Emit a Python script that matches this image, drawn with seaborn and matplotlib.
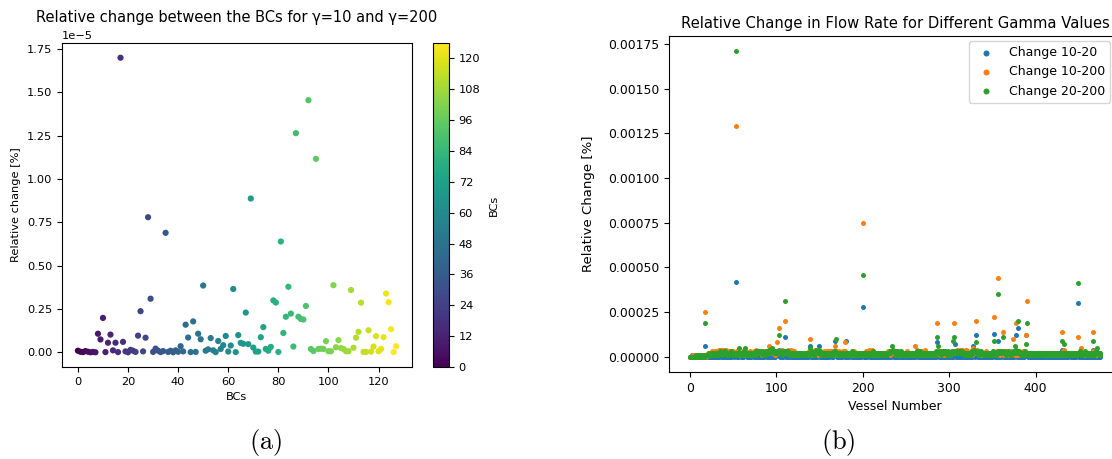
import numpy as np
import matplotlib
matplotlib.use("Agg")
import matplotlib.pyplot as plt
import seaborn as sns

plt.rcParams["mathtext.fontset"] = "cm"

# ---- panel (a): relative change between BCs for gamma=10 and gamma=200 (units of 1e-5 %)
bc_change_e5 = [
    0.010, 0.004, 0.002, 0.008, 0.004, 0.001, 0.003, 0.001,
    0.108, 0.075, 0.199, 0.002, 0.056, 0.103, 0.012, 0.056,
    0.002, 1.700, 0.061, 0.006, 0.001, 0.015, 0.010, 0.003,
    0.097, 0.238, 0.006, 0.085, 0.780, 0.310, 0.003, 0.022,
    0.010, 0.002, 0.008, 0.690, 0.003, 0.010, 0.001, 0.012,
    0.004, 0.036, 0.006, 0.160, 0.086, 0.002, 0.179, 0.003,
    0.108, 0.076, 0.386, 0.010, 0.018, 0.083, 0.012, 0.002,
    0.066, 0.020, 0.042, 0.095, 0.005, 0.040, 0.366, 0.002,
    0.100, 0.055, 0.050, 0.230, 0.048, 0.888, 0.028, 0.005,
    0.005, 0.088, 0.146, 0.020, 0.010, 0.032, 0.300, 0.288,
    0.003, 0.640, 0.112, 0.206, 0.379, 0.224, 0.034, 1.265,
    0.206, 0.193, 0.190, 0.268, 1.455, 0.020, 0.008, 1.117,
    0.020, 0.022, 0.020, 0.065, 0.007, 0.007, 0.388, 0.030,
    0.071, 0.025, 0.020, 0.007, 0.007, 0.360, 0.027, 0.085,
    0.119, 0.287, 0.003, 0.003, 0.128, 0.005, 0.034, 0.094,
    0.007, 0.020, 0.088, 0.340, 0.290, 0.134, 0.002, 0.036,
]
bcs = np.arange(len(bc_change_e5))
cbar_ticks = [0, 12, 24, 36, 48, 60, 72, 84, 96, 108, 120]

# ---- panel (b): relative change in flow rate per vessel (units of 1e-5 %)
change_10_20 = [
    0, 0, 1, 0, 0, 1, 0, 0, 1, 0, 0, 0, 1, 0, 1, 0, 0, 1, 6, 0,
    1, 0, 0, 1, 0, 1, 1, 0, 0, 1, 0, 1, 0, 0, 1, 1, 0, 1, 0, 1,
    1, 0, 1, 0, 1, 0, 0, 1, 0, 1, 1, 0, 1, 42, 0, 1, 0, 2, 1, 0,
    1, 0, 0, 1, 1, 2, 0, 1, 0, 0, 1, 0, 1, 1, 0, 1, 0, 1, 2, 0,
    1, 0, 1, 0, 1, 1, 0, 1, 1, 0, 1, 2, 0, 1, 0, 1, 0, 1, 1, 0,
    2, 1, 1, 4, 0, 1, 0, 1, 0, 1, 11, 0, 1, 0, 1, 1, 0, 1, 0, 1,
    1, 0, 1, 0, 0, 1, 0, 1, 1, 0, 1, 0, 1, 0, 1, 0, 1, 0, 2, 6,
    0, 1, 0, 1, 1, 0, 1, 0, 1, 6, 0, 1, 0, 1, 0, 0, 1, 0, 1, 0,
    1, 0, 1, 1, 0, 1, 0, 2, 9, 1, 0, 1, 0, 1, 0, 1, 0, 1, 1, 0,
    1, 9, 0, 1, 0, 1, 1, 0, 1, 0, 0, 1, 0, 1, 0, 1, 0, 1, 0, 1,
    28, 0, 1, 0, 1, 0, 1, 1, 0, 1, 0, 1, 0, 0, 1, 0, 1, 0, 1, 0,
    1, 0, 1, 0, 1, 1, 0, 1, 0, 1, 0, 1, 1, 0, 2, 1, 0, 1, 0, 1,
    0, 1, 0, 1, 0, 1, 1, 0, 1, 0, 1, 0, 1, 0, 1, 0, 0, 1, 0, 1,
    1, 0, 1, 1, 0, 1, 0, 1, 0, 1, 0, 1, 0, 1, 0, 0, 1, 0, 1, 0,
    1, 0, 1, 0, 1, 0, 8, 1, 0, 1, 0, 1, 0, 1, 0, 1, 0, 1, 1, 0,
    1, 0, 1, 0, 1, 0, 1, 7, 0, 1, 0, 1, 0, 1, 2, 0, 1, 0, 1, 0,
    1, 0, 1, 0, 1, 0, 1, 0, 6, 1, 0, 12, 1, 0, 1, 0, 1, 0, 1, 0,
    1, 0, 1, 1, 0, 1, 0, 1, 0, 1, 0, 1, 13, 0, 1, 0, 1, 9, 0, 1,
    0, 1, 2, 0, 1, 0, 1, 0, 1, 0, 1, 0, 1, 0, 1, 0, 1, 12, 0, 1,
    16, 0, 1, 0, 1, 0, 1, 0, 1, 12, 1, 0, 1, 0, 1, 0, 1, 0, 1, 0,
    1, 0, 1, 0, 1, 0, 0, 1, 0, 1, 0, 1, 0, 1, 0, 1, 0, 1, 0, 1,
    0, 1, 0, 1, 0, 1, 0, 1, 0, 1, 0, 4, 0, 1, 0, 1, 0, 1, 0, 1,
    1, 0, 1, 0, 1, 0, 1, 0, 1, 30, 0, 1, 0, 1, 0, 1, 0, 1, 0, 1,
    0, 1, 0, 1, 0, 1, 4, 0, 1, 0, 1, 0, 1, 0, 1, 0,
]
change_10_200 = [
    0, 0, 0, 1, 0, 0, 1, 0, 1, 0, 0, 1, 0, 1, 0, 0, 1, 1, 25, 0,
    1, 2, 1, 2, 1, 2, 3, 2, 1, 3, 2, 3, 2, 3, 4, 4, 3, 4, 3, 2,
    3, 4, 4, 3, 2, 3, 2, 3, 2, 2, 3, 2, 2, 129, 3, 2, 3, 2, 1, 2,
    2, 3, 2, 1, 2, 3, 2, 1, 2, 3, 2, 2, 1, 2, 3, 2, 3, 4, 3, 2,
    2, 3, 2, 1, 2, 3, 2, 2, 3, 2, 2, 6, 3, 2, 3, 2, 2, 3, 2, 1,
    2, 8, 3, 16, 2, 3, 4, 3, 2, 3, 20, 3, 2, 4, 3, 2, 3, 4, 3, 2,
    3, 2, 1, 2, 1, 2, 1, 2, 1, 1, 2, 1, 1, 2, 1, 2, 1, 2, 3, 10,
    2, 1, 2, 3, 2, 4, 3, 2, 1, 4, 2, 1, 2, 1, 2, 3, 2, 1, 2, 3,
    2, 3, 2, 3, 2, 1, 2, 1, 6, 3, 2, 1, 2, 3, 2, 1, 2, 3, 2, 8,
    3, 2, 1, 2, 1, 2, 1, 2, 1, 2, 3, 2, 1, 2, 1, 2, 1, 2, 2, 1,
    75, 2, 1, 2, 3, 2, 1, 4, 2, 1, 3, 4, 3, 2, 1, 2, 1, 2, 1, 2,
    1, 2, 1, 2, 1, 2, 1, 2, 2, 3, 2, 1, 3, 2, 3, 2, 2, 3, 2, 1,
    2, 1, 3, 2, 1, 2, 1, 2, 1, 2, 2, 3, 2, 1, 2, 1, 2, 1, 2, 1,
    6, 2, 1, 4, 2, 1, 2, 3, 2, 1, 2, 1, 4, 2, 1, 2, 1, 2, 1, 2,
    1, 2, 1, 2, 1, 2, 19, 3, 2, 1, 2, 3, 2, 1, 2, 3, 1, 2, 1, 2,
    2, 1, 2, 3, 3, 2, 19, 3, 2, 4, 3, 2, 3, 4, 3, 4, 3, 2, 3, 4,
    4, 3, 2, 1, 2, 3, 2, 1, 5, 2, 3, 20, 4, 3, 2, 1, 2, 1, 2, 1,
    2, 1, 2, 3, 2, 1, 2, 1, 2, 1, 2, 3, 22, 2, 1, 3, 2, 44, 2, 1,
    3, 2, 14, 2, 1, 2, 3, 2, 1, 2, 3, 2, 1, 2, 10, 2, 1, 19, 2, 1,
    3, 2, 1, 2, 1, 3, 2, 1, 2, 12, 31, 2, 1, 2, 1, 2, 1, 2, 1, 2,
    1, 2, 1, 2, 1, 2, 1, 2, 1, 1, 2, 1, 2, 1, 2, 1, 2, 1, 1, 2,
    1, 2, 1, 2, 1, 2, 1, 2, 1, 1, 2, 14, 3, 4, 2, 1, 2, 1, 2, 1,
    2, 1, 2, 1, 2, 1, 2, 1, 2, 11, 2, 3, 5, 2, 1, 2, 1, 2, 1, 2,
    1, 2, 1, 2, 1, 2, 14, 3, 2, 1, 2, 1, 2, 1, 2, 1,
]
change_20_200 = [
    0, 0, 0, 0, 0, 0, 0, 1, 0, 0, 0, 1, 0, 0, 1, 0, 1, 0, 19, 1,
    1, 1, 2, 1, 1, 2, 1, 2, 1, 2, 1, 2, 1, 2, 2, 3, 2, 1, 2, 3,
    2, 3, 2, 1, 2, 1, 2, 2, 3, 2, 1, 2, 1, 171, 2, 1, 2, 5, 2, 1,
    2, 1, 2, 3, 5, 2, 1, 2, 1, 2, 1, 2, 1, 2, 1, 2, 1, 3, 2, 3,
    2, 3, 2, 3, 2, 1, 2, 1, 3, 2, 3, 4, 3, 2, 4, 5, 3, 2, 3, 2,
    2, 3, 2, 12, 2, 3, 2, 1, 2, 3, 31, 3, 2, 3, 2, 1, 2, 1, 2, 1,
    2, 1, 2, 1, 2, 1, 2, 1, 2, 1, 2, 1, 1, 2, 1, 2, 1, 2, 1, 5,
    3, 2, 1, 2, 1, 2, 4, 3, 2, 4, 3, 2, 1, 2, 1, 2, 1, 2, 1, 2,
    1, 2, 1, 2, 1, 2, 1, 3, 3, 10, 2, 1, 2, 1, 2, 1, 2, 1, 2, 1,
    1, 2, 1, 2, 1, 2, 1, 2, 3, 2, 1, 2, 1, 2, 1, 2, 1, 2, 1, 2,
    46, 2, 1, 2, 1, 2, 1, 2, 1, 2, 1, 2, 3, 2, 1, 2, 1, 2, 1, 2,
    1, 2, 1, 2, 1, 2, 1, 2, 1, 2, 2, 3, 2, 3, 6, 4, 3, 2, 1, 2,
    3, 2, 1, 2, 3, 2, 1, 2, 1, 2, 1, 2, 1, 2, 1, 2, 1, 2, 1, 2,
    1, 2, 1, 3, 2, 1, 3, 2, 1, 2, 1, 2, 1, 2, 1, 2, 1, 2, 1, 2,
    1, 2, 1, 2, 1, 3, 11, 6, 2, 3, 2, 1, 2, 3, 2, 3, 2, 1, 2, 3,
    2, 1, 2, 3, 9, 2, 11, 3, 2, 3, 2, 3, 2, 3, 2, 3, 2, 1, 2, 1,
    2, 1, 2, 1, 2, 1, 2, 3, 2, 4, 3, 8, 2, 3, 2, 1, 2, 3, 2, 1,
    2, 1, 2, 1, 2, 1, 2, 1, 2, 1, 2, 3, 9, 2, 1, 2, 3, 35, 2, 3,
    2, 3, 11, 2, 3, 2, 1, 2, 3, 2, 1, 2, 1, 2, 3, 2, 6, 4, 3, 2,
    20, 3, 2, 1, 2, 1, 2, 1, 3, 7, 19, 2, 1, 2, 1, 2, 1, 2, 1, 2,
    1, 2, 1, 2, 1, 2, 1, 2, 1, 2, 1, 2, 1, 2, 1, 2, 1, 2, 1, 2,
    1, 2, 1, 2, 1, 2, 1, 2, 1, 2, 1, 9, 2, 7, 2, 1, 2, 1, 2, 1,
    2, 1, 2, 1, 2, 1, 2, 1, 2, 41, 2, 3, 2, 1, 2, 1, 2, 3, 2, 1,
    2, 1, 2, 1, 2, 1, 9, 2, 1, 2, 3, 5, 2, 1, 2, 1,
]
series_labels = ["Change 10-20", "Change 10-200", "Change 20-200"]
series_colors = ["#1f77b4", "#ff7f0e", "#2ca02c"]

W, H = 1112, 459
fig = plt.figure(figsize=(W / 100, H / 100), dpi=100)

# ---------- (a)
ax1 = fig.add_axes([62 / W, 1 - 367 / H, 350 / W, 324 / H])
cax = fig.add_axes([433 / W, 1 - 367 / H, 16 / W, 324 / H])
y1 = np.array(bc_change_e5) * 1e-5
sns.scatterplot(x=bcs, y=y1, hue=bcs, palette="viridis", hue_norm=(0, 126),
                legend=False, s=20, linewidth=0, ax=ax1)
ax1.set_title("Relative change between the BCs for γ=10 and γ=200", fontsize=10.5)
ax1.set_xlabel("BCs", fontsize=8.2)
ax1.set_ylabel("Relative change [%]", fontsize=8.2)
ax1.tick_params(labelsize=8.2)
ax1.yaxis.get_offset_text().set_fontsize(8.2)

sm = plt.cm.ScalarMappable(cmap="viridis", norm=plt.Normalize(0, 126))
cb = fig.colorbar(sm, cax=cax, ticks=cbar_ticks)
cb.set_label("BCs", fontsize=8.2, labelpad=6)
cb.ax.tick_params(labelsize=8.2)
cb.outline.set_linewidth(0.8)

# ---------- (b)
ax2 = fig.add_axes([669.4 / W, 1 - 372 / H, 451.5 / W, 336 / H])
vessels = np.arange(len(change_10_20))
for vals, lab, col in zip([change_10_20, change_10_200, change_20_200],
                          series_labels, series_colors):
    sns.scatterplot(x=vessels, y=np.array(vals) * 1e-5, color=col, label=lab,
                    s=13, linewidth=0, ax=ax2)
ax2.set_title("Relative Change in Flow Rate for Different Gamma Values", fontsize=10.6)
ax2.set_xlabel("Vessel Number", fontsize=9)
ax2.set_ylabel("Relative Change [%]", fontsize=9.5, labelpad=10)
ax2.tick_params(labelsize=8.9)
ax2.legend(loc="upper right", bbox_to_anchor=(1110 / W, 1 - 41 / H),
           bbox_transform=fig.transFigure, borderaxespad=0, fontsize=9,
           markerscale=1.2)

fig.text(266 / W, 1 - 443 / H, r"$\mathrm{(a)}$", fontsize=19, ha="center", va="center")
fig.text(838 / W, 1 - 443 / H, r"$\mathrm{(b)}$", fontsize=19, ha="center", va="center")

fig.savefig("out.png", dpi=100)
